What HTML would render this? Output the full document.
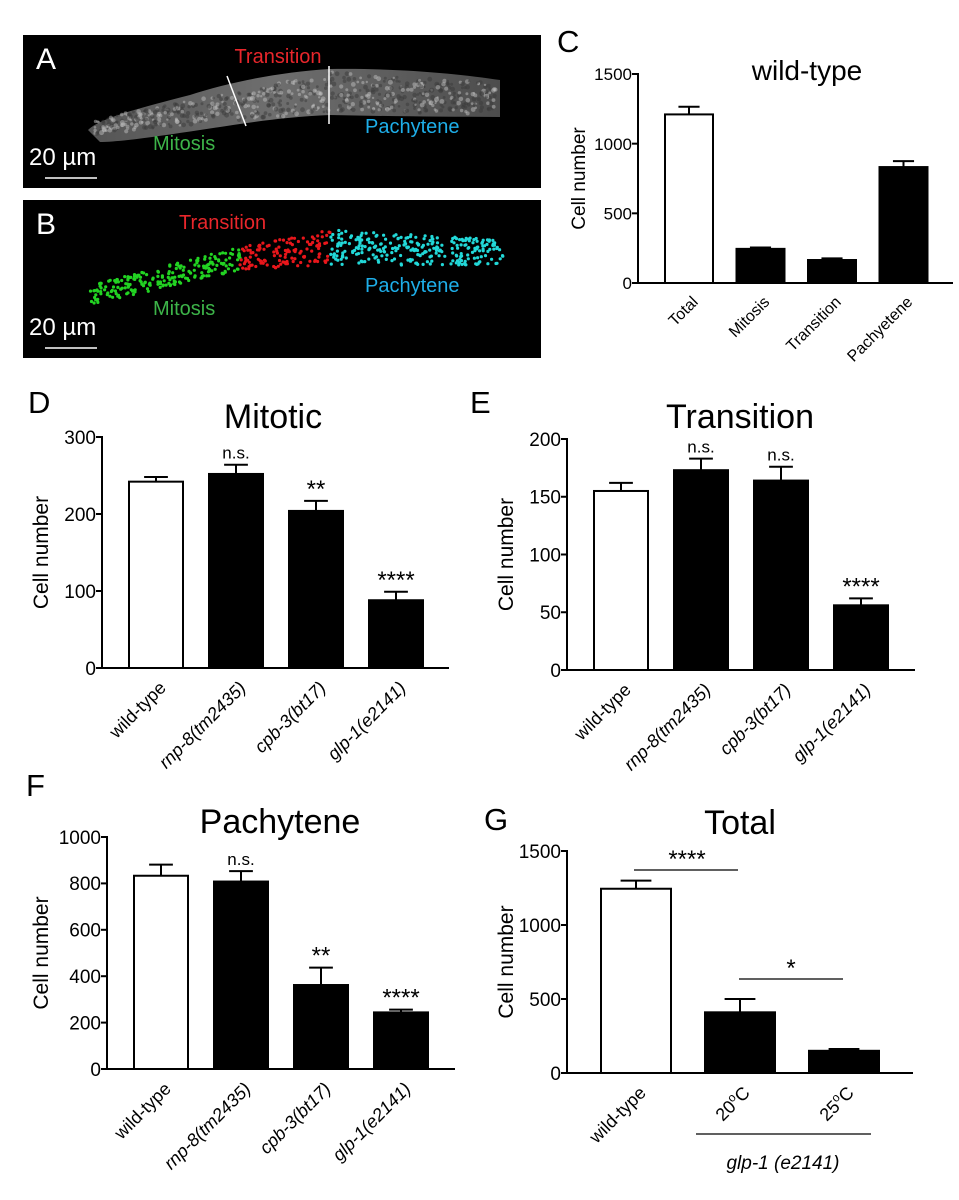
<!DOCTYPE html>
<html><head><meta charset="utf-8">
<style>
html,body{margin:0;padding:0;background:#fff;}
svg{display:block;font-family:"Liberation Sans",Arial,sans-serif;}
</style></head>
<body>
<svg id="fig" width="959" height="1200" viewBox="0 0 959 1200" xmlns="http://www.w3.org/2000/svg">
  <defs>
    <linearGradient id="wormg" x1="0" y1="0" x2="1" y2="0">
      <stop offset="0" stop-color="#6a6a6a"/><stop offset="0.45" stop-color="#8a8a8a"/><stop offset="1" stop-color="#606060"/>
    </linearGradient>
  </defs>
  <g>
    <rect x="23" y="35" width="518" height="153" fill="#000"/>
    <path id="worm" d="M88,130 C100,118 140,108 190,95 C230,82 280,72 330,69 C400,68 460,74 500,80 L500,117 C440,117 380,116 330,115 C280,117 240,124 200,130 C160,136 120,142 100,142 Z" fill="url(#wormg)" opacity="0.8"/>
    <g id="wormtex"></g>
    <line x1="227" y1="76" x2="246" y2="126" stroke="#fff" stroke-width="1.5"/>
    <line x1="329" y1="66" x2="329" y2="124" stroke="#fff" stroke-width="1.5"/>
    <text x="36" y="69" font-size="30" fill="#fff">A</text>
    <text x="278" y="63" font-size="20" fill="#e8262b" text-anchor="middle">Transition</text>
    <text x="153" y="150" font-size="20" fill="#3db449">Mitosis</text>
    <text x="365" y="133" font-size="20" fill="#1eaee8">Pachytene</text>
    <text x="29" y="165" font-size="24" fill="#fff">20 µm</text>
    <line x1="45" y1="178" x2="97" y2="178" stroke="#fff" stroke-width="1.5"/>
  </g>
  <g>
    <rect x="23" y="200" width="518" height="158" fill="#000"/>
    <g id="dots"></g>
    <text x="36" y="234" font-size="30" fill="#fff">B</text>
    <text x="179" y="229" font-size="20" fill="#e8262b">Transition</text>
    <text x="153" y="315" font-size="20" fill="#3db449">Mitosis</text>
    <text x="365" y="292" font-size="20" fill="#1eaee8">Pachytene</text>
    <text x="29" y="335" font-size="24" fill="#fff">20 µm</text>
    <line x1="45" y1="348" x2="97" y2="348" stroke="#fff" stroke-width="1.5"/>
  </g>
  <g id="charts"></g>
</svg>
<script>
// ---- Panel C data ----
const cCats = ["Total","Mitosis","Transition","Pachyetene"];
const cVals = [1210,245,165,832];
const cErrs = [55,10,12,43];
const cTicks = [0,500,1000,1500];
// ---- Panel D data ----
const genoCats = ["wild-type","rnp-8(tm2435)","cpb-3(bt17)","glp-1(e2141)"];
const dVals = [242,252,204,88];
const dErrs = [6,12,13,11];
const dSig = ["","n.s.","**","****"];
const dTicks = [0,100,200,300];
// ---- Panel E data ----
const eVals = [155,173,164,56];
const eErrs = [7,10,12,6];
const eSig = ["","n.s.","n.s.","****"];
const eTicks = [0,50,100,150,200];
// ---- Panel F data ----
const fVals = [833,808,362,244];
const fErrs = [48,45,75,12];
const fSig = ["","n.s.","**","****"];
const fTicks = [0,200,400,600,800,1000];
// ---- Panel G data ----
const gCats = ["wild-type","20oC","25oC"];
const gVals = [1245,410,150];
const gErrs = [55,90,12];
const gTicks = [0,500,1000,1500];

const NS = "http://www.w3.org/2000/svg";
const root = document.getElementById("charts");
function mk(tag, attrs, parent, txt){
  const e = document.createElementNS(NS, tag);
  for (const k in attrs) e.setAttribute(k, attrs[k]);
  if (txt !== undefined) e.textContent = txt;
  (parent||root).appendChild(e);
  return e;
}

function chart(cfg){
  const g = mk("g", {});
  
  
  const yS = v => cfg.y0 - (v - cfg.min) / (cfg.max - cfg.min) * (cfg.y0 - cfg.y1);
  const xS = i => cfg.firstX + i * cfg.step;
  const tfs = cfg.tfs || 19;
  const ya = mk("line", {x1:cfg.ax, y1:cfg.y1-1, x2:cfg.ax, y2:cfg.y0, stroke:"#000","stroke-width":2}, g);
  
  
  const xa = mk("line", {x1:cfg.ax-6, y1:cfg.y0, x2:cfg.axEnd, y2:cfg.y0, stroke:"#000","stroke-width":2}, g);
  
  
  cfg.ticks.forEach(t => {
    const y = yS(t);
    const tl = mk("line", {x1:cfg.ax-6, y1:y, x2:cfg.ax, y2:y, stroke:"#000","stroke-width":2}, g);
    
    
    const tt = mk("text", {x:cfg.ax-6, y:y+tfs*0.36, "font-size":tfs, "text-anchor":"end"}, g, String(t));
    
    
  });
  const yt = mk("text", {x:0, y:0, "font-size":cfg.ytfs||21, "text-anchor":"middle",
    transform:`translate(${cfg.ax-(cfg.ytOff||47)},${(cfg.y0+cfg.y1)/2}) rotate(-90)`}, g, "Cell number");
  
  
  const ti = mk("text", {x:cfg.titleX, y:cfg.titleY, "font-size":cfg.titleSize||34, "text-anchor":"middle"}, g, cfg.title);
  
  
  const pl = mk("text", {x:cfg.labX, y:cfg.labY, "font-size":31}, g, cfg.panel);
  
  
  cfg.vals.forEach((v, i) => {
    const x = xS(i), w = cfg.bw, top = yS(v), etop = yS(v + cfg.errs[i]);
    const cx = x + w/2;
    const b = mk("rect", {x:x, y:top, width:w, height:cfg.y0-top, fill: i===0?"#fff":"#000", stroke:"#000","stroke-width":2}, g);
    
    
    const eb = mk("path", {d:`M${cx},${top} V${etop} M${cx-w*0.22},${etop} H${cx+w*0.22}`, stroke:"#000","stroke-width":2, fill:"none"}, g);
    
    
    if (cfg.sig && cfg.sig[i]) {
      const isStar = cfg.sig[i].indexOf("*") >= 0;
      const s = mk("text", {x:cx, y: isStar ? etop-4 : etop-6, "font-size": isStar?24:17, "text-anchor":"middle"}, g, cfg.sig[i]);
      
      
    }
    const lab = cfg.cats[i];
    const t = mk("text", {x:0, y:0, "font-size":cfg.xfs||18, "text-anchor":"end",
      "font-style": (cfg.italic && i>0) ? "italic" : "normal",
      transform:`translate(${cx+2},${cfg.y0+12}) rotate(-45) translate(0,${(cfg.xfs||18)*0.7})`}, g);
    
    
    const m = lab.match(/^(\d+)o(C)$/);
    if (m) {
      t.appendChild(document.createTextNode(m[1]));
      mk("tspan", {"font-size":12, dy:-7}, t, "o");
      mk("tspan", {dy:7}, t, "C");
    } else t.textContent = lab;
  });
  return {g, xS, yS};
}

chart({name:"chart-c-wild-type", panel:"C", labX:557, labY:52, title:"wild-type", titleX:807, titleY:80, titleSize:28,
  ax:638, axEnd:953, y0:283, y1:74, min:0, max:1500, ticks:cTicks, tfs:17, ytfs:19, ytOff:53,
  firstX:665, step:71.5, bw:48, vals:cVals, errs:cErrs, cats:cCats, keys:["total","mitosis","transition","pachytene"], xfs:16});
chart({name:"chart-d-mitotic", panel:"D", labX:28, labY:413, title:"Mitotic", titleX:273, titleY:428,
  ax:102, axEnd:449, y0:668, y1:437, min:0, max:300, ticks:dTicks, ytOff:54,
  firstX:129, step:80, bw:54, vals:dVals, errs:dErrs, sig:dSig, cats:genoCats, italic:true, keys:["wild-type","rnp-8","cpb-3","glp-1"]});
chart({name:"chart-e-transition", panel:"E", labX:470, labY:413, title:"Transition", titleX:740, titleY:428,
  ax:567, axEnd:915, y0:670, y1:439, min:0, max:200, ticks:eTicks, ytOff:54,
  firstX:594, step:80, bw:54, vals:eVals, errs:eErrs, sig:eSig, cats:genoCats, italic:true, keys:["wild-type","rnp-8","cpb-3","glp-1"]});
chart({name:"chart-f-pachytene", panel:"F", labX:26, labY:796, title:"Pachytene", titleX:280, titleY:833,
  ax:107, axEnd:455, y0:1069, y1:837, min:0, max:1000, ticks:fTicks, ytOff:59,
  firstX:134, step:80, bw:54, vals:fVals, errs:fErrs, sig:fSig, cats:genoCats, italic:true, keys:["wild-type","rnp-8","cpb-3","glp-1"]});
const G = chart({name:"chart-g-total", panel:"G", labX:484, labY:830, title:"Total", titleX:740, titleY:834,
  ax:567, axEnd:913, y0:1073, y1:851, min:0, max:1500, ticks:gTicks, ytOff:54,
  firstX:601, step:104, bw:70, vals:gVals, errs:gErrs, cats:gCats, keys:["wild-type","glp-1-20c","glp-1-25c"], xfs:18});
(function(){
  const g = G.g;
  const l1 = mk("line", {x1:634, y1:870, x2:738, y2:870, stroke:"#000","stroke-width":1.3}, g);
  
  
  const s1 = mk("text", {x:687, y:867, "font-size":24, "text-anchor":"middle"}, g, "****");
  
  
  const l2 = mk("line", {x1:739, y1:979, x2:843, y2:979, stroke:"#000","stroke-width":1.3}, g);
  
  
  const s2 = mk("text", {x:791, y:976, "font-size":24, "text-anchor":"middle"}, g, "*");
  
  
  const l3 = mk("line", {x1:696, y1:1134, x2:871, y2:1134, stroke:"#000","stroke-width":1.3}, g);
  
  
  const t = mk("text", {x:783, y:1169, "font-size":19, "font-style":"italic", "text-anchor":"middle"}, g, "glp-1 (e2141)");
  
  
})();

// decorative micrograph texture (not chart data)
let seed = 7;
function rnd(){ seed = (seed * 16807) % 2147483647; return seed / 2147483647; }
const tex = document.getElementById("wormtex");
function edgeA(x){
  const up = x < 330 ? 118 - (x-88)/(330-88)*49 : 69 + (x-330)/170*11;
  const lo = x < 330 ? 138 - (x-88)/(330-88)*23 : 115 + (x-330)/170*2;
  return [up, lo];
}
for (let i = 0; i < 650; i++) {
  const x = 95 + rnd()*402;
  const [u, l] = edgeA(x);
  const y = u + 3 + rnd()*(l-u-6);
  mk("circle", {cx:x.toFixed(1), cy:y.toFixed(1), r:(1.2+rnd()*1.3).toFixed(1), fill: rnd()<0.5?"#bdbdbd":"#3a3a3a", opacity:0.5}, tex);
}
const dots = document.getElementById("dots");
function edgeB(x){
  let up, lo;
  if (x < 240) { up = 285 - (x-90)/150*38; lo = 305 - (x-90)/150*35; }
  else if (x < 330) { up = 247 - (x-240)/90*17; lo = 270 - (x-240)/90*5; }
  else { up = 230 + (x-330)/173*10; lo = 265; }
  return [up, lo];
}
for (let i = 0; i < 620; i++) {
  const x = 90 + rnd()*413;
  const [u, l] = edgeB(x);
  const y = u + rnd()*(l-u);
  const col = x < 240 ? "#22d322" : (x < 330 ? "#e8161b" : "#22d8d8");
  mk("circle", {cx:x.toFixed(1), cy:y.toFixed(1), r:1.6, fill:col}, dots);
}
</script>
</body></html>
